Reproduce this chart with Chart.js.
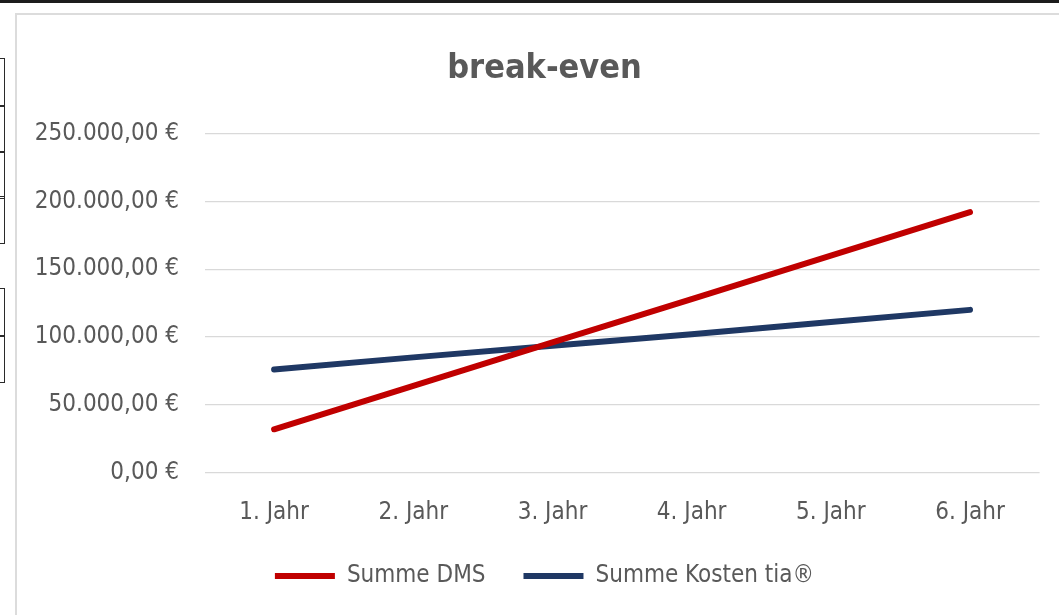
<!DOCTYPE html>
<html>
<head>
<meta charset="utf-8">
<script src="https://cdn.jsdelivr.net/npm/chart.js@4.4.1/dist/chart.umd.min.js"></script>
<style>
  html, body { margin: 0; padding: 0; background: #ffffff; width: 1059px; height: 615px; overflow: hidden; position: relative; }
  .topline { position: absolute; left: 0; top: 0; width: 1059px; height: 2.5px; background: #1c1c1c; }
  .frame { position: absolute; left: 15px; top: 13px; width: 1100px; height: 700px; border-left: 2px solid #dcdcdc; border-top: 2px solid #dcdcdc; }
  .cell { position: absolute; left: -2px; width: 6.5px; border: 1.5px solid #2a2a2a; box-sizing: border-box; }
  #wrap { position: absolute; left: 17px; top: 15px; width: 1057px; height: 601px; }
</style>
</head>
<body>
<div class="topline"></div>
<div class="cell" style="top:58px;height:48.5px"></div>
<div class="cell" style="top:105px;height:47.5px"></div>
<div class="cell" style="top:151px;height:47.5px"></div>
<div class="cell" style="top:196px;height:47.5px"></div>
<div class="cell" style="top:288px;height:48.5px"></div>
<div class="cell" style="top:335px;height:47.5px"></div>
<div class="frame"></div>
<div id="wrap"><canvas id="c" width="1057" height="601"></canvas></div>
<script>
// ---- data ----
const categories = ['1. Jahr', '2. Jahr', '3. Jahr', '4. Jahr', '5. Jahr', '6. Jahr'];
const summeDMS = [32000, 64000, 96000, 128000, 160000, 192000];
const summeKostenTia = [76000, 85000, 93500, 102000, 111000, 120000];
const yTickValues = [0, 50000, 100000, 150000, 200000, 250000];
const seriesNames = ['Summe DMS', 'Summe Kosten tia\u00AE'];
const chartTitle = 'break-even';

function euro(v) {
  const parts = Number(v).toFixed(2).split('.');
  return parts[0].replace(/\B(?=(\d{3})+(?!\d))/g, '.') + ',' + parts[1] + ' \u20AC';
}

const FONT = "'DejaVu Sans Condensed', 'DejaVu Sans', sans-serif";
const TEXT = '#595959';
Chart.defaults.font.family = FONT;
Chart.defaults.color = TEXT;

new Chart(document.getElementById('c'), {
  type: 'line',
  data: {
    labels: categories,
    datasets: [
      { label: seriesNames[0], data: summeDMS, borderColor: '#C00000', backgroundColor: '#C00000',
        borderWidth: 6, borderCapStyle: 'round', borderJoinStyle: 'round', pointRadius: 0, tension: 0, yAxisID: 'y' },
      { label: seriesNames[1], data: summeKostenTia, borderColor: '#1F3864', backgroundColor: '#1F3864',
        borderWidth: 6, borderCapStyle: 'round', borderJoinStyle: 'round', pointRadius: 0, tension: 0, yAxisID: 'y' }
    ]
  },
  options: {
    responsive: false,
    animation: false,
    layout: { padding: { left: 0, right: 2, top: 0, bottom: 18 } },
    plugins: {
      title: { display: true, text: chartTitle, color: TEXT,
        font: { family: FONT, size: 34, weight: 'bold' }, padding: { top: 33.8, bottom: 43.9 } },
      legend: { display: true, position: 'bottom',
        labels: { usePointStyle: true, pointStyle: 'line', pointStyleWidth: 60, boxHeight: 6,
          padding: 38, color: TEXT, font: { family: FONT, size: 24 } } },
      tooltip: { enabled: false }
    },
    scales: {
      x: {
        offset: true,
        grid: { display: false, drawTicks: false },
        border: { display: false },
        ticks: { padding: 25.5, color: TEXT, font: { family: FONT, size: 24 } },
        afterFit: (s) => { s.height = 53.3; }
      },
      y: {
        position: 'left',
        min: 0, max: 250000,
        afterBuildTicks: (s) => { s.ticks = yTickValues.map(v => ({ value: v })); },
        grid: { color: '#D9D9D9', lineWidth: 1.3, drawTicks: false },
        border: { display: false },
        ticks: { padding: 25.5, color: TEXT, font: { family: FONT, size: 24 }, callback: (v) => euro(v) },
        afterFit: (s) => { s.width = 187.5; }
      },
      yR: {
        position: 'right', display: true,
        grid: { display: false, drawTicks: false },
        border: { display: false },
        ticks: { display: false },
        afterFit: (s) => { s.width = 32.4; }
      }
    }
  }
});
</script>
</body>
</html>
